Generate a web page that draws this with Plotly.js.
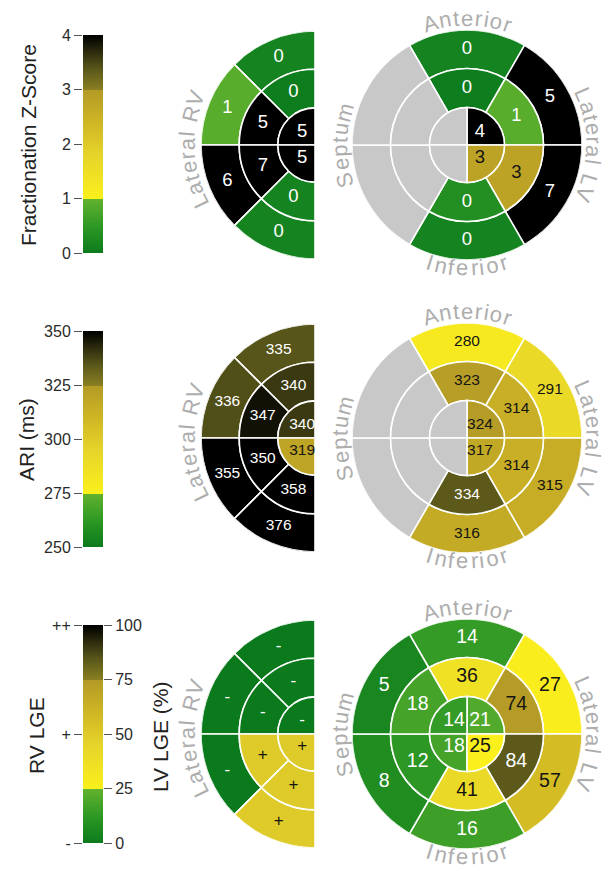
<!DOCTYPE html>
<html><head><meta charset="utf-8">
<script src="https://cdn.plot.ly/plotly-3.0.1.min.js"></script>
<style>html,body{margin:0;padding:0;background:#fff}#chart{width:612px;height:871px}</style>
</head><body><div id="chart"></div>
<script>
// ================= DATA =================
// LV basal & mid rings, segment order: anterior, anterolateral, inferolateral, inferior, inferoseptal, anteroseptal
// LV apical ring, quadrant order: antero-lateral, antero-septal, infero-septal, infero-lateral
// RV outer & mid rings, order (top to bottom): anterior, antero-lateral, infero-lateral, inferior
// RV inner ring, order: upper, lower
// null = segment not mapped (grey)

// Row 1: Fractionation Z-Score
const fzRange = [0, 4];
const fzTicks = [0, 1, 2, 3, 4];
const fzLvBasal  = [0.15, 5, 7, 0.15, null, null];
const fzLvMid    = [0.05, 0.9, 2.8, 0.35, null, null];
const fzLvApical = [4, null, null, 2.8];
const fzRvOuter  = [0.15, 0.9, 6, 0.15];
const fzRvMid    = [0.05, 5, 7, 0.15];
const fzRvInner  = [5, 5];

// Row 2: ARI (ms)
const ariRange = [250, 350];
const ariTicks = [250, 275, 300, 325, 350];
const ariLvBasal  = [280, 291, 315, 316, null, null];
const ariLvMid    = [323, 314, 314, 334, null, null];
const ariLvApical = [324, null, null, 317];
const ariRvOuter  = [335, 336, 355, 376];
const ariRvMid    = [340, 347, 350, 358];
const ariRvInner  = [340, 319];

// Row 3: LGE
const lgeRange = [0, 100];
const lvLgeTicks = [0, 25, 50, 75, 100];
const rvLgeTickText = ['-', '+', '++'];
const rvLgeTickVals = [0, 50, 100];
const lgeLvBasal  = [14, 27, 57, 16, 8, 5];
const lgeLvMid    = [36, 74, 84, 41, 12, 18];
const lgeLvApical = [21, 14, 18, 25];
const lgeRvOuter  = ['-', '-', '-', '+'];
const lgeRvMid    = ['-', '-', '+', '+'];
const lgeRvInner  = ['-', '+'];

// ================= STYLE / GEOMETRY =================
const W = 612, H = 871;
const FONT = '"Liberation Sans", Arial, Helvetica, sans-serif';
const CS = [
  [0, '#0b7a1c'], [0.12, '#2c9724'], [0.2499, '#62b22e'],
  [0.25, '#fbf01c'], [0.45, '#e6d42a'], [0.6, '#cfb624'], [0.7499, '#b39a26'],
  [0.75, '#8a7f22'], [0.85, '#57551a'], [0.92, '#302e0e'], [1, '#000000']
];
const LV_SIX = [90, 30, 330, 270, 210, 150];
const LV_FOUR = [45, 135, 225, 315];
const RV_FOUR = [112.5, 157.5, 202.5, 247.5];
const RV_TWO = [135, 225];
const RING = [0, 0.326, 0.665, 1];
const GREY = '#c8c8c8';
const LABEL_GREY = '#adadad';

const rowCY = [145, 438, 734];
const LV_CX = 467, LV_R = 115;
const RV_CX = 315, RV_R = 114;

const traces = [];

function bullseye(sub, rings, cmin, cmax, fontSize) {
  const col = {r: [], base: [], theta: [], width: [], c: []};
  const grey = {r: [], base: [], theta: [], width: []};
  const txt = {r: [], theta: [], text: [], color: []};
  rings.forEach(ring => {
    const inner = RING[ring.k], outer = RING[ring.k + 1];
    ring.vals.forEach((v, i) => {
      const th = ring.thetas[i];
      const tgt = (v === null) ? grey : col;
      tgt.r.push(outer - inner); tgt.base.push(inner); tgt.theta.push(th); tgt.width.push(ring.width);
      if (v !== null) {
        col.c.push(v);
        const f = (Math.min(Math.max(v, cmin), cmax) - cmin) / (cmax - cmin);
        txt.r.push(ring.k === 0 ? 0.16 : (inner + outer) / 2);
        txt.theta.push(th);
        txt.text.push(ring.labels ? ring.labels[i] : String(Math.round(v)));
        txt.color.push((f < 0.25 || f > 0.8) ? '#ffffff' : '#141414');
      }
    });
  });
  traces.push({type: 'barpolar', subplot: sub, r: col.r, base: col.base, theta: col.theta, width: col.width,
    marker: {color: col.c, colorscale: CS, cmin: cmin, cmax: cmax, showscale: false, line: {color: '#ffffff', width: 1.6}},
    hoverinfo: 'skip', showlegend: false});
  if (grey.r.length) {
    traces.push({type: 'barpolar', subplot: sub, r: grey.r, base: grey.base, theta: grey.theta, width: grey.width,
      marker: {color: GREY, line: {color: '#ffffff', width: 1.6}}, hoverinfo: 'skip', showlegend: false});
  }
  traces.push({type: 'scatterpolar', subplot: sub, mode: 'text', r: txt.r, theta: txt.theta, text: txt.text,
    textfont: {family: FONT, size: fontSize, color: txt.color}, hoverinfo: 'skip', showlegend: false, cliponaxis: false});
}

function lvRings(b, m, a) {
  return [{k: 2, vals: b, thetas: LV_SIX, width: 60}, {k: 1, vals: m, thetas: LV_SIX, width: 60},
          {k: 0, vals: a, thetas: LV_FOUR, width: 90}];
}
function rvRings(o, m, i, lo, lm, li) {
  return [{k: 2, vals: o, thetas: RV_FOUR, width: 45, labels: lo}, {k: 1, vals: m, thetas: RV_FOUR, width: 45, labels: lm},
          {k: 0, vals: i, thetas: RV_TWO, width: 90, labels: li}];
}
const rvCatVal = c => rvLgeTickVals[rvLgeTickText.indexOf(c)];

bullseye('polar', rvRings(fzRvOuter, fzRvMid, fzRvInner), fzRange[0], fzRange[1], 18.5);
bullseye('polar2', lvRings(fzLvBasal, fzLvMid, fzLvApical), fzRange[0], fzRange[1], 18.5);
bullseye('polar3', rvRings(ariRvOuter, ariRvMid, ariRvInner), ariRange[0], ariRange[1], 15.5);
bullseye('polar4', lvRings(ariLvBasal, ariLvMid, ariLvApical), ariRange[0], ariRange[1], 15.5);
bullseye('polar5', rvRings(lgeRvOuter.map(rvCatVal), lgeRvMid.map(rvCatVal), lgeRvInner.map(rvCatVal),
  lgeRvOuter, lgeRvMid, lgeRvInner), lgeRange[0], lgeRange[1], 17);
bullseye('polar6', lvRings(lgeLvBasal, lgeLvMid, lgeLvApical), lgeRange[0], lgeRange[1], 19.5);

// colour bars (gradient from the range end points, interpolated by the heatmap)
function bar(xa, ya, rng) {
  traces.push({type: 'heatmap', xaxis: xa, yaxis: ya, x: [0, 1], y: rng, z: [[rng[0], rng[0]], [rng[1], rng[1]]],
    zsmooth: 'best', colorscale: CS, zmin: rng[0], zmax: rng[1], showscale: false, hoverinfo: 'skip'});
}
bar('x', 'y', fzRange);
bar('x2', 'y2', ariRange);
bar('x3', 'y3', lgeRange);
traces.push({type: 'scatter', xaxis: 'x3', yaxis: 'y4', x: [], y: [], showlegend: false, hoverinfo: 'skip'});

function polarLayout(cx, cy, R, half) {
  return {
    domain: {x: half ? [(cx - R) / W, cx / W] : [(cx - R) / W, (cx + R) / W], y: [1 - (cy + R) / H, 1 - (cy - R) / H]},
    sector: half ? [90, 270] : [0, 360], bgcolor: 'rgba(0,0,0,0)', hole: 0,
    radialaxis: {visible: false, range: [0, 1], showgrid: false, showline: false, showticklabels: false, ticks: ''},
    angularaxis: {visible: false, rotation: 0, direction: 'counterclockwise', showgrid: false, showline: false, showticklabels: false, ticks: ''}
  };
}

const barX = [83 / W, 103 / W];
const tickStyle = {ticks: 'outside', ticklen: 8, tickwidth: 1, tickcolor: '#555', showgrid: false, zeroline: false, showline: false,
  tickfont: {family: FONT, size: 16, color: '#2a2a2a'}, fixedrange: true};
const hiddenX = {visible: false, range: [0, 1], fixedrange: true};

// curved labels
const measCtx = document.createElement('canvas').getContext('2d');
function arcText(label, cx, cy, r, centerDeg, inward, size, spacing) {
  measCtx.font = size + 'px ' + FONT;
  const chars = Array.from(label);
  const ws = chars.map(c => measCtx.measureText(c).width);
  const total = ws.reduce((a, b) => a + b, 0) + spacing * (chars.length - 1);
  const dir = inward ? 1 : -1;
  const c0 = centerDeg * Math.PI / 180 - dir * total / (2 * r);
  let off = 0; const out = [];
  chars.forEach((ch, i) => {
    const phi = c0 + dir * (off + ws[i] / 2) / r;
    off += ws[i] + spacing;
    if (ch === ' ') return;
    const px = cx + r * Math.cos(phi), py = cy - r * Math.sin(phi);
    let ang = (inward ? 270 : 90) - phi * 180 / Math.PI;
    ang = ((ang + 540) % 360) - 180;
    out.push({xref: 'paper', yref: 'paper', x: px / W, y: 1 - py / H, text: ch, showarrow: false, textangle: ang,
      xanchor: 'center', yanchor: 'middle', font: {family: FONT, size: size, color: LABEL_GREY}});
  });
  return out;
}

let annotations = [];
rowCY.forEach(cy => {
  annotations = annotations.concat(
    arcText('Anterior', LV_CX, cy, 127, 90, false, 22, 1.8),
    arcText('Lateral LV', LV_CX, cy, 127, 0, false, 22, 1.8),
    arcText('Inferior', LV_CX, cy, 123, 270, true, 22, 1.8),
    arcText('Septum', LV_CX, cy, 127, 180, false, 22, 1.8),
    arcText('Lateral RV', RV_CX, cy, 128, 182, false, 22, 1.8)
  );
});
function title(text, px, py) {
  return {xref: 'paper', yref: 'paper', x: px / W, y: 1 - py / H, text: text, showarrow: false, textangle: -90,
    xanchor: 'center', yanchor: 'middle', font: {family: FONT, size: 21, color: '#222'}};
}
annotations.push(title('Fractionation Z-Score', 28, 145));
annotations.push(title('ARI (ms)', 27, 440));
annotations.push(title('RV LGE', 36, 736));
annotations.push(title('LV LGE (%)', 160, 737));

const layout = {
  width: W, height: H, margin: {l: 0, r: 0, t: 0, b: 0}, paper_bgcolor: '#fff', plot_bgcolor: 'rgba(0,0,0,0)',
  showlegend: false, font: {family: FONT},
  polar: polarLayout(RV_CX, rowCY[0], RV_R, true),
  polar2: polarLayout(LV_CX, rowCY[0], LV_R, false),
  polar3: polarLayout(RV_CX, rowCY[1], RV_R, true),
  polar4: polarLayout(LV_CX, rowCY[1], LV_R, false),
  polar5: polarLayout(RV_CX, rowCY[2], RV_R, true),
  polar6: polarLayout(LV_CX, rowCY[2], LV_R, false),
  xaxis: Object.assign({domain: barX, anchor: 'y'}, hiddenX),
  xaxis2: Object.assign({domain: barX, anchor: 'y2'}, hiddenX),
  xaxis3: Object.assign({domain: barX, anchor: 'y3'}, hiddenX),
  yaxis: Object.assign({domain: [1 - 253 / H, 1 - 35 / H], range: fzRange, anchor: 'x', side: 'left', tickvals: fzTicks}, tickStyle),
  yaxis2: Object.assign({domain: [1 - 547 / H, 1 - 331 / H], range: ariRange, anchor: 'x2', side: 'left', tickvals: ariTicks}, tickStyle),
  yaxis3: Object.assign({domain: [1 - 843 / H, 1 - 625 / H], range: lgeRange, anchor: 'x3', side: 'left',
    tickvals: rvLgeTickVals, ticktext: rvLgeTickText}, tickStyle),
  yaxis4: Object.assign({range: lgeRange, anchor: 'x3', overlaying: 'y3', side: 'right', tickvals: lvLgeTicks}, tickStyle),
  annotations: annotations
};

Plotly.newPlot('chart', traces, layout, {displayModeBar: false, staticPlot: true});
</script>
</body></html>
